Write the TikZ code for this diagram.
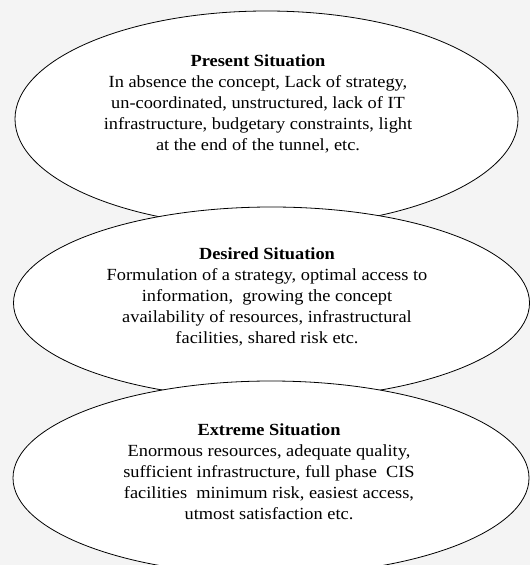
\documentclass[tikz,border=0pt]{standalone}
\usepackage{fontspec}
\setmainfont{Liberation Serif}[FakeStretch=1.08]
\usetikzlibrary{shapes.geometric}
\definecolor{bggray}{HTML}{F4F4F4}
\tikzset{
  situation/.style={ellipse, draw=black, line width=0.8pt, fill=white, inner sep=0pt, outer sep=0pt},
  situtext/.style={align=center, inner sep=0pt, font=\fontsize{17}{21}\selectfont}
}
\begin{document}
\begin{tikzpicture}[x=1pt,y=-1pt]
\fill[bggray] (0,0) rectangle (530,565);
\useasboundingbox (0,0) rectangle (530,565);
\begin{scope}
\clip (0,0) rectangle (530,565);
\node[situation, minimum width=503pt, minimum height=216pt] (e1) at (266.5,119) {};
\node[situtext] (t1) at (258,104) {\textbf{Present Situation}\\In absence the concept, Lack of strategy,\\un-coordinated, unstructured, lack of IT\\infrastructure, budgetary constraints, light\\at the end of the tunnel, etc.};
\node[situation, minimum width=516pt, minimum height=192pt] (e2) at (271.5,303) {};
\node[situtext] (t2) at (267,297) {\textbf{Desired Situation}\\Formulation of a strategy, optimal access to\\information, \ growing the concept\\availability of resources, infrastructural\\facilities, shared risk etc.};
\node[situation, minimum width=516pt, minimum height=194pt] (e3) at (271,478) {};
\node[situtext] (t3) at (269,472) {\textbf{Extreme Situation}\\Enormous resources, adequate quality,\\sufficient infrastructure, full phase \ CIS\\facilities \ minimum risk, easiest access,\\utmost satisfaction etc.};
\end{scope}
\end{tikzpicture}
\end{document}
